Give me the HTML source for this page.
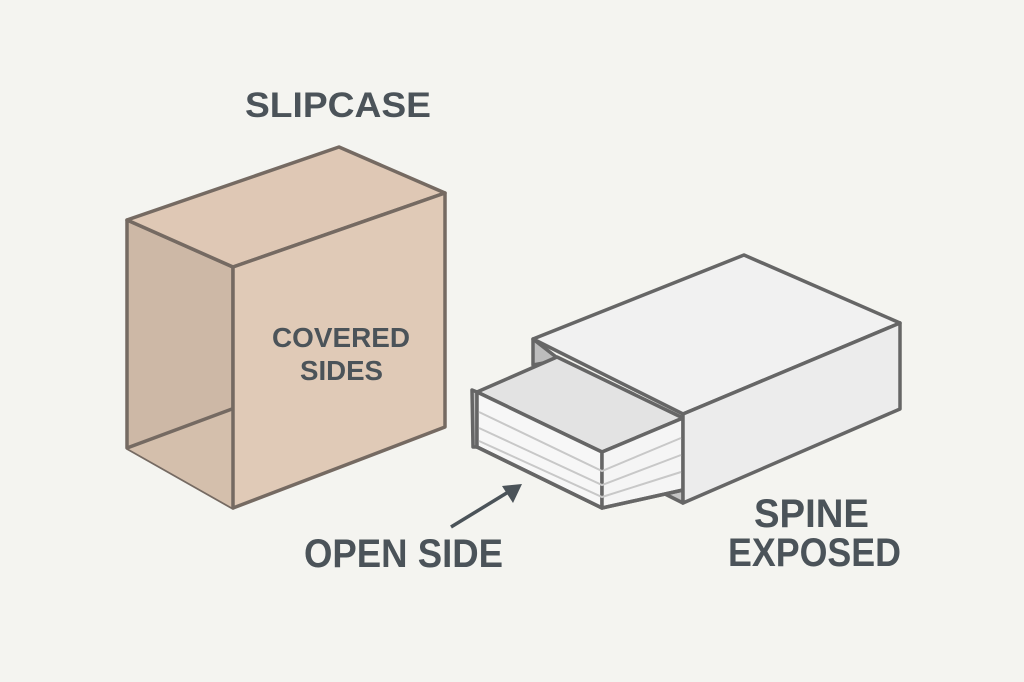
<!DOCTYPE html>
<html><head><style>
html,body{margin:0;padding:0;background:#f4f4f0;}
svg{display:block}
text{font-family:"Liberation Sans",sans-serif;font-weight:bold;fill:#4b5359}
</style></head><body>
<svg width="1024" height="682" viewBox="0 0 1024 682">
<rect width="1024" height="682" fill="#f4f4f0"/>
<text x="245" y="117" font-size="35" textLength="186" lengthAdjust="spacingAndGlyphs">SLIPCASE</text>
<g stroke="#756a62" stroke-width="3.5" stroke-linejoin="round">
<polygon points="127,220 233,267 233,508 127,448" fill="#cdb8a6"/>
<polygon points="127,448 232,409 233,508" fill="#d4bfac" stroke="none"/>
<line x1="127" y1="448" x2="232" y2="409"/>
<polygon points="127,220 339,147 445,193 233,267" fill="#dfc8b5"/>
<polygon points="233,267 445,193 445,427 233,508" fill="#e0cab7"/>
</g>
<text x="272" y="347" font-size="28" textLength="138" lengthAdjust="spacingAndGlyphs">COVERED</text>
<text x="300" y="380" font-size="28" textLength="83" lengthAdjust="spacingAndGlyphs">SIDES</text>
<g stroke="#666" stroke-width="3.5" stroke-linejoin="round">
<polygon points="533,339 533,365 560,360" fill="#bdbdbd"/>
<polygon points="665,480 683,490 683,503 665,494" fill="#c4c4c4"/>
<polygon points="472,390 477,392 477,447 473,447" fill="#bfbfbf"/>
<polygon points="477,392 557,357 683,418 602,452" fill="#e3e3e3"/>
<polygon points="477,392 602,452 602,508 477,447" fill="#f7f7f7"/>
<polygon points="602,452 683,418 683,490 602,508" fill="#f5f5f5"/>
<polygon points="533,339 744,255 900,323 683,414" fill="#f1f1f1"/>
<polygon points="683,414 900,323 900,409 683,503" fill="#ececec"/>
</g>
<g stroke="#c8c8c8" stroke-width="2" fill="none">
<polyline points="479,412 602,471 681,438"/>
<polyline points="479,428 602,485 681,455"/>
<polyline points="479,441 602,497 681,472"/>
</g>
<polyline points="477,447 602,508 683,490" stroke="#666" stroke-width="3.5" fill="none"/>
<line x1="451" y1="527" x2="510" y2="491" stroke="#4b5359" stroke-width="3.5"/>
<polygon points="522,484 502,486 513,503" fill="#4b5359"/>
<text x="304" y="567" font-size="40" textLength="199" lengthAdjust="spacingAndGlyphs">OPEN SIDE</text>
<text x="754" y="527" font-size="40" textLength="115" lengthAdjust="spacingAndGlyphs">SPINE</text>
<text x="728" y="566" font-size="40" textLength="173" lengthAdjust="spacingAndGlyphs">EXPOSED</text>
</svg>
</body></html>
